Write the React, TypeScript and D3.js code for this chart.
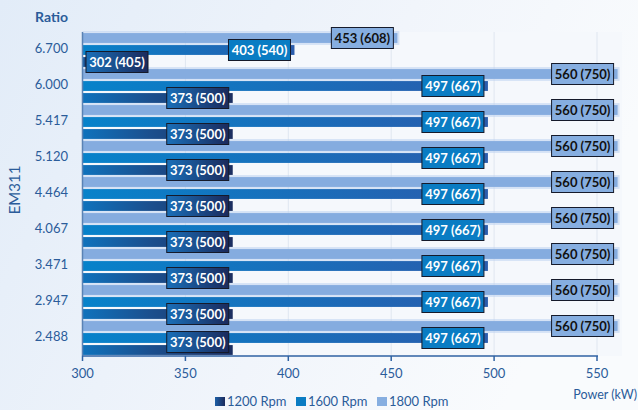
import React, { useEffect } from "react";
import * as d3 from "d3";

const ratios = ["6.700", "6.000", "5.417", "5.120", "4.464", "4.067", "3.471", "2.947", "2.488"];
const series = ["1800 Rpm", "1600 Rpm", "1200 Rpm"];
const kw1200 = [302, 373, 373, 373, 373, 373, 373, 373, 373];
const hp1200 = [405, 500, 500, 500, 500, 500, 500, 500, 500];
const kw1600 = [403, 497, 497, 497, 497, 497, 497, 497, 497];
const hp1600 = [540, 667, 667, 667, 667, 667, 667, 667, 667];
const kw1800 = [453, 560, 560, 560, 560, 560, 560, 560, 560];
const hp1800 = [608, 750, 750, 750, 750, 750, 750, 750, 750];
const xTicks = [300, 350, 400, 450, 500, 550];
const legendOrder = ["1200 Rpm", "1600 Rpm", "1800 Rpm"];

const W = 638;
const H = 410;
const plot = { left: 82.5, right: 622, top: 32, bottom: 356 };

const x = d3.scaleLinear().domain([300, 550]).range([plot.left, 597]);
const y = d3.scaleBand<string>().domain(ratios).range([plot.top, plot.bottom]).paddingInner(0);
const inner = d3
  .scaleBand<string>()
  .domain(series)
  .range([0, y.bandwidth()])
  .paddingInner(0.18)
  .paddingOuter(0.09);

const seriesData: Record<string, { kw: number[]; hp: number[] }> = {
  "1200 Rpm": { kw: kw1200, hp: hp1200 },
  "1600 Rpm": { kw: kw1600, hp: hp1600 },
  "1800 Rpm": { kw: kw1800, hp: hp1800 },
};

const barFill: Record<string, string> = {
  "1200 Rpm": "url(#g1200)",
  "1600 Rpm": "url(#g1600)",
  "1800 Rpm": "#85acdf",
};
const labelFill: Record<string, string> = {
  "1200 Rpm": "url(#l1200)",
  "1600 Rpm": "#0a7cc3",
  "1800 Rpm": "#86aee0",
};
const labelText: Record<string, string> = {
  "1200 Rpm": "#ffffff",
  "1600 Rpm": "#ffffff",
  "1800 Rpm": "#111111",
};
const legendFill: Record<string, string> = {
  "1200 Rpm": "url(#lg1200)",
  "1600 Rpm": "#0a7cc3",
  "1800 Rpm": "#86aee0",
};

const FONT = "Lato, 'Open Sans', sans-serif";
const BLUE = "#2b5c9a";

export default function App() {
  useEffect(() => {
    document.body.style.margin = "0";
  }, []);

  const boxW = 62;
  const boxH = 21;
  const labels: React.ReactNode[] = [];
  const bars: React.ReactNode[] = [];

  ratios.forEach((r, i) => {
    series.forEach((s) => {
      const kw = seriesData[s].kw[i];
      const hp = seriesData[s].hp[i];
      const by = (y(r) as number) + (inner(s) as number);
      const bh = inner.bandwidth();
      const x0 = x(300);
      const x1 = x(kw);
      if (s === "1800 Rpm") {
        bars.push(
          <rect key={`h-${r}-${s}`} x={x0} y={by - 2} width={x1 - x0 + 2} height={bh + 4} fill="#b9cfee" opacity={0.55} />
        );
      }
      bars.push(
        <rect key={`b-${r}-${s}`} x={x0} y={by} width={Math.max(1, x1 - x0)} height={bh} fill={barFill[s]} />
      );
      const cy = by + bh / 2;
      let bx = x1 - 4 - boxW;
      if (bx < plot.left + 3.5) bx = plot.left + 3.5;
      let bTop = cy - boxH / 2;
      if (bTop + boxH > plot.bottom - 3.5) bTop = plot.bottom - 3.5 - boxH;
      labels.push(
        <g key={`l-${r}-${s}`}>
          <rect x={bx} y={bTop} width={boxW} height={boxH} fill={labelFill[s]} stroke="#151a2a" strokeWidth={1} />
          <text
            x={bx + boxW / 2}
            y={bTop + boxH / 2}
            dy="0.36em"
            textAnchor="middle"
            fontFamily={FONT}
            fontWeight="bold"
            fontSize={13}
            fill={labelText[s]}
          >
            {`${kw} (${hp})`}
          </text>
        </g>
      );
    });
  });

  return (
    <svg width={W} height={H} style={{ position: "fixed", left: 0, top: 0, display: "block" }}>
      <defs>
        <linearGradient id="bg" x1="0" y1="0" x2="1" y2="0.3">
          <stop offset="0" stopColor="#e2ecf8" />
          <stop offset="0.6" stopColor="#f1f5fb" />
          <stop offset="1" stopColor="#f9fbfd" />
        </linearGradient>
        <linearGradient id="g1200" x1="0" y1="0" x2="1" y2="0">
          <stop offset="0" stopColor="#0f72bc" />
          <stop offset="0.45" stopColor="#1b4f8e" />
          <stop offset="1" stopColor="#1b2e60" />
        </linearGradient>
        <linearGradient id="g1600" x1="0" y1="0" x2="1" y2="0">
          <stop offset="0" stopColor="#0782ca" />
          <stop offset="1" stopColor="#2a5cac" />
        </linearGradient>
        <linearGradient id="l1200" x1="0" y1="0" x2="1" y2="0">
          <stop offset="0" stopColor="#1a6fb8" />
          <stop offset="1" stopColor="#1b2a5c" />
        </linearGradient>
        <linearGradient id="lg1200" x1="0" y1="0" x2="1" y2="0">
          <stop offset="0" stopColor="#1d5fa6" />
          <stop offset="1" stopColor="#1b2a5c" />
        </linearGradient>
      </defs>
      <rect x={0} y={0} width={W} height={H} fill="url(#bg)" />
      <rect x={plot.left} y={plot.top} width={plot.right - plot.left} height={plot.bottom - plot.top} fill="#f5f8fc" />
      {xTicks.slice(1).map((t) => (
        <line key={`g${t}`} x1={x(t)} x2={x(t)} y1={plot.top} y2={plot.bottom} stroke="#dfe6f0" strokeWidth={1} />
      ))}
      {bars}
      <line x1={plot.left} x2={plot.left} y1={plot.top} y2={plot.bottom} stroke="#5a82b4" strokeWidth={1.5} />
      <line x1={plot.left} x2={x(550) + 1} y1={plot.bottom} y2={plot.bottom} stroke="#2f62a3" strokeWidth={1.5} />
      {xTicks.map((t) => (
        <g key={`t${t}`}>
          <line x1={x(t)} x2={x(t)} y1={plot.bottom} y2={plot.bottom + 5} stroke="#2f62a3" strokeWidth={1.5} />
          <text x={x(t)} y={373} dy="0.36em" textAnchor="middle" fontFamily={FONT} fontSize={13} fill={BLUE}>
            {t}
          </text>
        </g>
      ))}
      {ratios.map((r) => (
        <text
          key={`y${r}`}
          x={68}
          y={(y(r) as number) + y.bandwidth() / 2 - 2}
          dy="0.36em"
          textAnchor="end"
          fontFamily={FONT}
          fontSize={13}
          fill={BLUE}
        >
          {r}
        </text>
      ))}
      {labels}
      <text x={35} y={17} dy="0.36em" fontFamily={FONT} fontWeight="bold" fontSize={14} fill={BLUE}>
        Ratio
      </text>
      <text
        transform="translate(15,190) rotate(-90)"
        textAnchor="middle"
        dy="0.36em"
        fontFamily={FONT}
        fontSize={15}
        fill={BLUE}
      >
        EM311
      </text>
      <text x={637} y={394} dy="0.36em" textAnchor="end" fontFamily={FONT} fontSize={12.5} fill={BLUE}>
        Power (kW)
      </text>
      {legendOrder.map((s, i) => {
        const lx = 215 + i * 81;
        return (
          <g key={`lg${s}`}>
            <rect x={lx} y={397} width={10} height={9} fill={legendFill[s]} />
            <text x={lx + 12} y={401.5} dy="0.36em" fontFamily={FONT} fontSize={13} fill={BLUE}>
              {s}
            </text>
          </g>
        );
      })}
    </svg>
  );
}
